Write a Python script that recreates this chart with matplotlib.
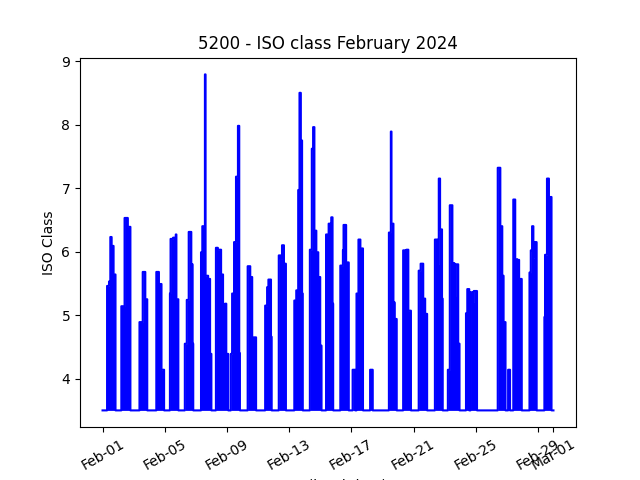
import numpy as np
import pandas as pd
import matplotlib
matplotlib.use("Agg")
import matplotlib.pyplot as plt
import matplotlib.dates as mdates

# baseline ISO class when nothing is going on
baseline = 3.5

# each burst: start time, then run lengths (hours) and the ISO class held for each run
burst_start = [
    "2024-02-01 07:00", "2024-02-02 05:00", "2024-02-03 09:00", "2024-02-04 11:00",
    "2024-02-05 08:00", "2024-02-06 07:00", "2024-02-07 08:00", "2024-02-08 07:00",
    "2024-02-09 06:00", "2024-02-10 08:00", "2024-02-11 11:00", "2024-02-12 08:00",
    "2024-02-13 08:00", "2024-02-14 08:00", "2024-02-15 09:00", "2024-02-16 07:00",
    "2024-02-17 02:00", "2024-02-17 08:00", "2024-02-18 05:00", "2024-02-19 10:00",
    "2024-02-20 08:00", "2024-02-21 08:00", "2024-02-22 09:00", "2024-02-23 05:00",
    "2024-02-24 09:00", "2024-02-26 10:00", "2024-02-27 02:00", "2024-02-27 10:00",
    "2024-02-28 11:00", "2024-02-29 10:00",
]
burst_hours = [
    [3, 2, 2, 3, 3], [5, 5, 4], [5, 4, 3], [4, 4, 4],
    [1, 4, 4, 1, 3], [3, 3, 4, 2, 1], [2, 4, 1, 4, 3, 2], [3, 5, 3, 3, 2, 3],
    [2, 3, 3, 3, 2, 1], [4, 3, 6], [3, 2, 4, 1], [3, 2, 3, 3],
    [3, 3, 2, 2, 2, 1], [3, 2, 2, 3, 3, 3, 2], [4, 3, 1, 2, 1], [4, 1, 4, 4],
    [4], [3, 3, 4], [4], [3, 1, 3, 2, 3],
    [3, 2, 3, 4], [3, 4, 3, 3], [4, 2, 2, 3, 1], [3, 4, 3, 2, 4, 2],
    [2, 3, 2, 3, 2, 5], [4, 3, 2, 3], [3], [3, 3, 3, 4],
    [2, 2, 2, 1, 4], [1, 3, 3, 4],
]
burst_iso = [
    [5.46, 5.53, 6.23, 6.09, 5.64], [5.14, 6.53, 6.39], [4.89, 5.68, 5.25], [5.68, 5.49, 4.14],
    [5.34, 6.20, 6.22, 6.27, 5.25], [4.55, 5.24, 6.31, 5.80, 4.55], [5.99, 6.40, 8.79, 5.62, 5.57, 4.39],
    [6.06, 6.03, 5.64, 5.08, 5.18, 4.39],
    [4.39, 5.34, 6.15, 7.18, 7.98, 4.40], [5.77, 5.60, 4.65], [5.15, 5.44, 5.56, 4.66], [5.94, 5.89, 6.10, 5.81],
    [5.23, 5.39, 6.97, 8.50, 7.75, 5.34], [6.03, 7.62, 7.96, 6.33, 5.99, 5.60, 4.52],
    [6.27, 6.44, 5.97, 6.54, 5.18], [5.78, 6.02, 6.42, 5.83],
    [4.14], [5.34, 6.19, 6.05], [4.14], [6.30, 7.89, 6.44, 5.20, 4.94],
    [6.02, 5.00, 6.03, 5.07], [5.70, 5.81, 5.26, 5.02], [6.19, 5.80, 7.15, 6.35, 5.26],
    [4.14, 6.73, 5.82, 5.30, 5.80, 4.55],
    [5.03, 5.41, 3.50, 5.36, 5.20, 5.38], [7.32, 6.40, 5.62, 4.89], [4.14], [6.82, 5.88, 5.87, 5.57],
    [5.67, 6.02, 6.40, 5.90, 6.15], [4.97, 5.95, 7.15, 6.86],
]

# hourly series for the month
times = pd.date_range("2024-02-01 00:00", "2024-03-01 00:00", freq="h")
iso = np.full(len(times), baseline)
for start, hours, vals in zip(burst_start, burst_hours, burst_iso):
    i = int((pd.Timestamp(start) - times[0]) / pd.Timedelta(hours=1))
    for h, v in zip(hours, vals):
        iso[i:i + h] = v
        i += h

fig, ax = plt.subplots(figsize=(6.4, 4.8), dpi=100)
ax.plot(times, iso, color="blue", drawstyle="steps-post")
ax.fill_between(times, baseline, iso, step="post", color="blue", linewidth=0)

ax.set_title("5200 - ISO class February 2024")
ax.set_ylabel("ISO Class")
ax.set_xlabel("Date (local time)")
ax.xaxis.set_major_formatter(mdates.DateFormatter("%b-%d"))
plt.xticks(rotation=30)

fig.savefig("out.png")
